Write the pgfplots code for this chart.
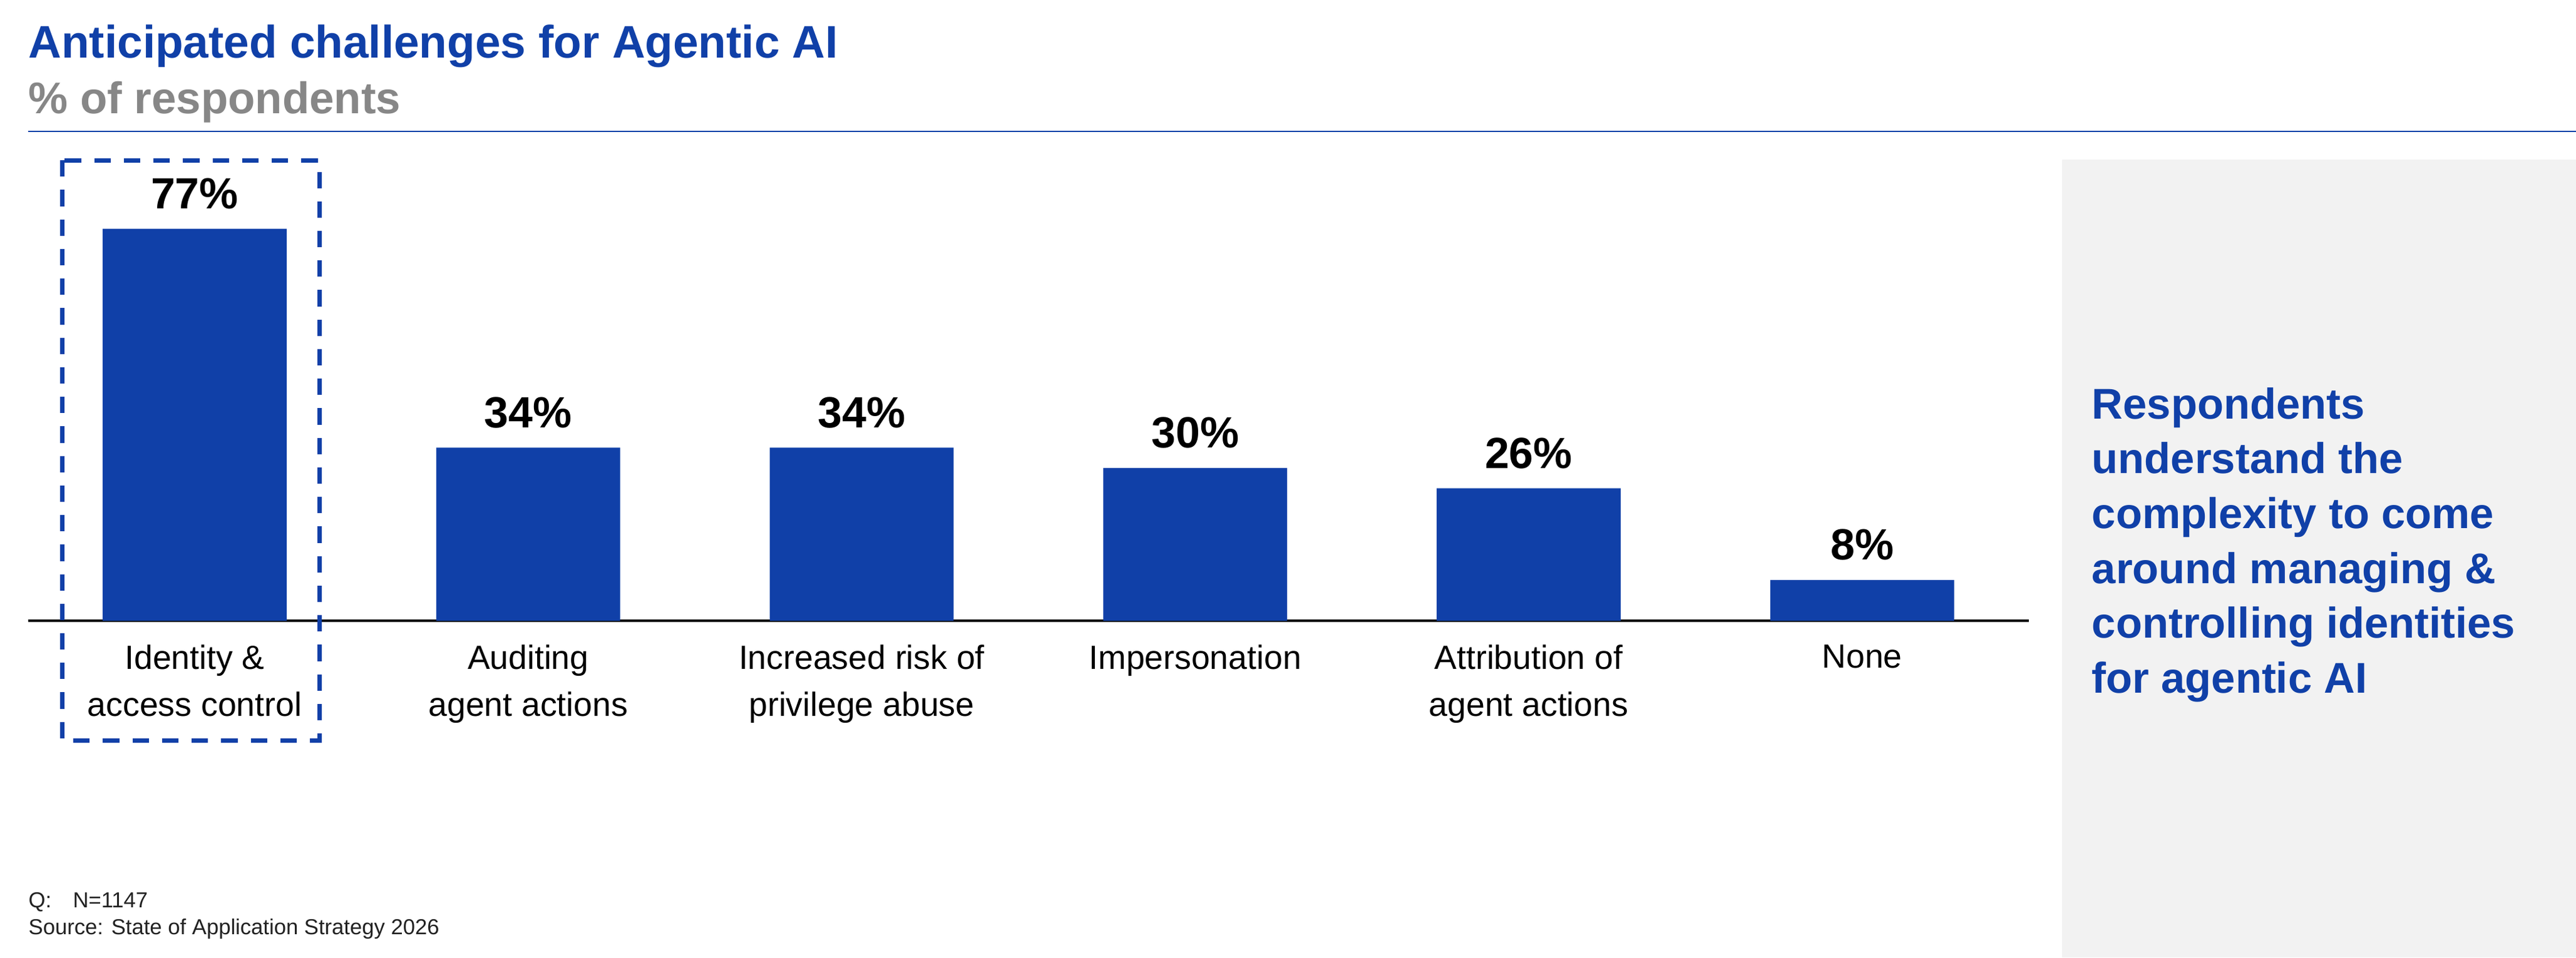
\documentclass[border=0pt]{standalone}
\usepackage{fontspec}
\setmainfont{Liberation Sans}
\usepackage{pgfplots}
\pgfplotsset{compat=1.18}
\definecolor{fblue}{RGB}{16,64,168}
\definecolor{subgray}{RGB}{135,135,135}
\definecolor{panelgray}{RGB}{242,242,242}
\definecolor{notegray}{RGB}{34,34,34}

\begin{document}
\begin{tikzpicture}
  % frame and decorations, in pixels of the reference (y downwards)
  \begin{scope}[x=0.5pt,y=-0.5pt]
    \useasboundingbox (0,0) rectangle (1568,583);
    \fill[panelgray] (1255,97) rectangle (1568,583);
    \node[anchor=base west,inner sep=0,text=fblue,font=\bfseries\fontsize{13.9}{16}\selectfont]
      at (17,35.3) {Anticipated challenges for Agentic AI};
    \node[anchor=base west,inner sep=0,text=subgray,font=\bfseries\fontsize{13.5}{16}\selectfont]
      at (17,69) {\% of respondents};
    \draw[fblue,line width=0.45pt] (17,80) -- (1568,80);
    \foreach \t [count=\i from 0] in {Respondents,understand the,complexity to come,
        around managing \&,controlling identities,for agentic AI}
      \node[anchor=base west,inner sep=0,text=fblue,font=\bfseries\fontsize{13.1}{16}\selectfont]
        at (1273,255+33.4*\i) {\t};
    \node[anchor=base west,inner sep=0,text=notegray,font=\fontsize{6.6}{8}\selectfont]
      at (17,552.6) {Q:};
    \node[anchor=base west,inner sep=0,text=notegray,font=\fontsize{6.6}{8}\selectfont]
      at (44,552.6) {N=1147};
    \node[anchor=base west,inner sep=0,text=notegray,font=\fontsize{6.6}{8}\selectfont]
      at (17,569) {Source: State of Application Strategy 2026};
  \end{scope}

  \begin{axis}[
    at={(8.5pt,-189pt)},
    anchor=south west,
    scale only axis,
    width=609pt,
    height=155pt,
    xmin=-0.5, xmax=5.5,
    ymin=0, ymax=100,
    enlargelimits=false,
    clip=false,
    ybar,
    bar width=56pt,
    axis x line*=bottom,
    hide y axis,
    x axis line style={black,line width=0.8pt},
    xtick=data,
    major tick length=0pt,
    xticklabels={{Identity \&\\access control},{Auditing\\agent actions},
      {Increased risk of\\privilege abuse},{Impersonation},
      {Attribution of\\agent actions},{None}},
    xticklabel style={align=center,inner sep=0pt,anchor=north,yshift=-7.2pt,
      font=\fontsize{10.2}{14.3}\selectfont},
    /pgf/number format/assume math mode=true,
    nodes near coords={\pgfmathprintnumber{\pgfplotspointmeta}\%},
    every node near coord/.append style={inner sep=0pt,yshift=5.8pt,
      font=\bfseries\fontsize{13.3}{16}\selectfont,text=black},
    ]
    \addplot[fill=fblue,draw=none] coordinates {
      (0,77) (1,34) (2,34) (3,30) (4,26) (5,8)
    };
    % highlight round the first category
    \draw[fblue,line width=1.3pt,dash pattern=on 5pt off 4pt]
      (axis cs:-0.397,90.45) rectangle (axis cs:0.374,-23.5);
  \end{axis}
\end{tikzpicture}
\end{document}
